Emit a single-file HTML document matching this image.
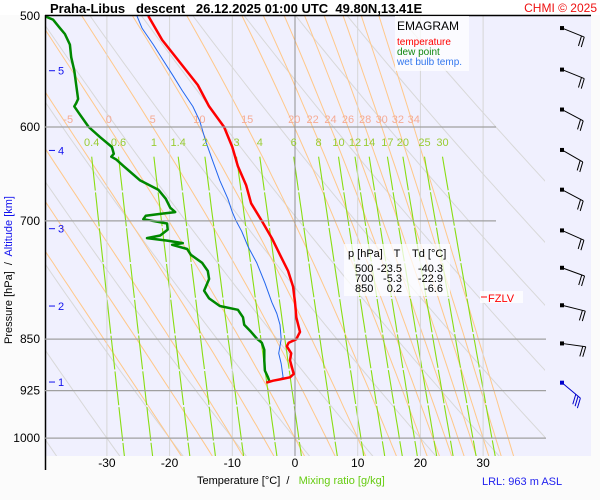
<!DOCTYPE html>
<html><head><meta charset="utf-8">
<style>
html,body{margin:0;padding:0;background:#fbfbfb;}
svg{display:block;font-family:"Liberation Sans",sans-serif;}
</style></head>
<body>
<svg id="chart" width="600" height="500" viewBox="0 0 600 500" xmlns="http://www.w3.org/2000/svg">
  <rect x="0" y="0" width="600" height="15" fill="#ffffff"/>
  <rect x="45" y="16" width="546" height="440" fill="#f0f0fe"/>
  <defs><clipPath id="plotclip"><rect x="45" y="16" width="500" height="440"/></clipPath></defs>
  <g id="grid" clip-path="url(#plotclip)"></g>
  <g id="profiles" clip-path="url(#plotclip)"></g>
  <g id="labels"></g>
  <line x1="45" y1="15.5" x2="591" y2="15.5" stroke="#000" stroke-width="1.5"/>
  <line x1="45.5" y1="15" x2="45.5" y2="470" stroke="#000" stroke-width="1.5"/>
  <text x="50" y="13" font-size="13" font-weight="bold" fill="#000" xml:space="preserve">Praha-Libus   descent   26.12.2025 01:00 UTC  49.80N,13.41E</text>
  <text x="597" y="12" font-size="12" fill="#ee1111" text-anchor="end">CHMI © 2025</text>
  <g>
    <rect x="395" y="16" width="74" height="55" fill="#ffffff" fill-opacity="0.75"/>
    <text x="397" y="30" font-size="12" fill="#000">EMAGRAM</text>
    <text x="397" y="45" font-size="10" fill="#ff0000">temperature</text>
    <text x="397" y="55" font-size="10" fill="#118811">dew point</text>
    <text x="397" y="65" font-size="10" fill="#3377ee">wet bulb temp.</text>
  </g>
  <g font-size="11" fill="#000">
    <rect x="344" y="244" width="106" height="52" fill="#ffffff" fill-opacity="0.75"/>
    <text x="348" y="257">p [hPa]</text><text x="397" y="257" text-anchor="middle">T</text><text x="412" y="257">Td [°C]</text>
    <text x="355" y="272">500</text><text x="402" y="272" text-anchor="end">-23.5</text><text x="443" y="272" text-anchor="end">-40.3</text>
    <text x="355" y="282">700</text><text x="402" y="282" text-anchor="end">-5.3</text><text x="443" y="282" text-anchor="end">-22.9</text>
    <text x="355" y="292">850</text><text x="402" y="292" text-anchor="end">0.2</text><text x="443" y="292" text-anchor="end">-6.6</text>
  </g>
  <g>
    <rect x="480" y="291" width="43" height="12" fill="#ffffff" fill-opacity="0.8"/>
    <line x1="481" y1="297" x2="487" y2="297" stroke="#ff0000" stroke-width="1"/>
    <text x="488" y="302" font-size="11" fill="#ff0000">FZLV</text>
  </g>
  <g transform="translate(12,270) rotate(-90)">
    <text x="0" y="0" font-size="11" text-anchor="middle" xml:space="preserve"><tspan fill="#000">Pressure [hPa]  /  </tspan><tspan fill="#1111ee">Altitude [km]</tspan></text>
  </g>
  <text x="197" y="484" font-size="11" xml:space="preserve"><tspan fill="#000">Temperature [°C]  /   </tspan><tspan fill="#66cc11">Mixing ratio [g/kg]</tspan></text>
  <text x="482" y="485" font-size="11" fill="#2222ee">LRL: 963 m ASL</text>
</svg>
<script>
const pTicks=[500,600,700,850,925,1000];
const tTicks=[-30,-20,-10,0,10,20,30];
const altKm=[5,4,3,2,1];
const altP=[547,623.5,709,805,912];
const thetaW=[-20,-15,-10,-5,0,5,10,15,20,22,24,26,28,30,32,34];
const thetaWLabels=[-5,0,5,10,15,20,22,24,26,28,30,32,34];
const mixRatios=[0.4,0.6,1,1.4,2,3,4,6,8,10,12,14,17,20,25,30];
const dryThetas=[-40,-30,-20,-10,0,10,20,30,40,50,60,70,80];
const presT=[500,520,540,560,580,600,620,640,660,680,700,720,740,760,780,800,820,840,845,850,855,860,870,880,890,900,905,908,910,913];
const tempT=[-23.4,-21.2,-18.3,-15.5,-13.7,-11.3,-10.0,-9.1,-7.8,-7.0,-5.3,-3.7,-2.4,-1.1,-0.3,0.0,0.2,0.8,0.5,0.2,-1.0,-1.3,-0.6,-0.8,-0.5,-0.2,-0.8,-2.4,-3.5,-4.6];
const presTd=[500,503,510,515,524,535,547,560,573,577,580,587,600,610,620,627,630,633,640,655,665,675,685,690,692,694,698,703,710,717,720,723,726,728,733,740,750,760,770,785,795,805,810,820,830,840,850,855,865,880,895,905,913];
const dewTd=[-40.0,-38.6,-37.5,-36.7,-35.9,-35.7,-35.2,-34.9,-34.6,-34.9,-35.2,-34.4,-32.9,-31.1,-29.2,-28.9,-29.3,-28.5,-27.3,-24.7,-21.8,-20.6,-19.9,-19.1,-21.5,-23.8,-24.2,-20.4,-20.3,-21.5,-23.6,-20.4,-17.9,-19.6,-17.2,-16.6,-14.8,-13.9,-13.7,-14.5,-13.7,-12.0,-9.1,-8.3,-8.1,-7.0,-6.0,-5.3,-4.9,-4.9,-4.8,-4.3,-4.0];
const presTw=[500,510,524,537,551,565,580,594,615,633,655,675,690,700,712,730,750,775,800,815,830,850,870,885,905,910];
const wetTw=[-25.2,-24.4,-22.6,-21.1,-19.5,-18.0,-16.3,-15.2,-14.2,-13.2,-12.0,-10.7,-10.0,-9.4,-8.5,-7.5,-6.1,-4.8,-3.7,-2.9,-2.4,-2.2,-2.6,-2.2,-1.9,-3.0];
const windP=[510,546,583,623,665,711,756,804,856,913];
const windAngle=[22,22,28,30,28,24,20,14,8,40];

const NS="http://www.w3.org/2000/svg";
const X0=295, KX=6.27, Y0=16, KY=609;
function xT(t){return X0+t*KX;}
function yP(p){return Y0+KY*Math.log(p/500);}
function mk(tag,attrs,parent){const e=document.createElementNS(NS,tag);for(const k in attrs)e.setAttribute(k,attrs[k]);parent.appendChild(e);return e;}
const grid=document.getElementById('grid'), prof=document.getElementById('profiles'), lab=document.getElementById('labels');
function pathFrom(pts){return pts.map((q,i)=>(i?'L':'M')+q[0].toFixed(1)+','+q[1].toFixed(1)).join('');}

for(const th of dryThetas){const pts=[];for(let p=480;p<=1060;p+=10){pts.push([xT((th+273.15)*Math.pow(p/1000,0.2857)-273.15),yP(p)]);}
 const e=mk('path',{d:pathFrom(pts),fill:'none',stroke:'#d8d8d8','stroke-width':1},grid);
 
 }
function es(T){return 6.112*Math.exp(17.67*T/(T+243.5));}
function dT(T,p){const K=T+273.15,e=es(T),rs=0.622*e/(p-e);return (287*K+2.5e6*rs)/(1005+2.5e6*2.5e6*rs*0.622/(287*K*K));}
function moistT(tw,ptarget){let T=tw,lp=Math.log(1000);const lt=Math.log(ptarget);const n=200,h=(lt-lp)/n;for(let i=0;i<n;i++){const p=Math.exp(lp);T+=dT(T,p)*h;lp+=h;}return T;}
for(const tw of thetaW){const pts=[];for(let p=480;p<=1060;p+=10){pts.push([xT(moistT(tw,p)),yP(p)]);}
 const e=mk('path',{d:pathFrom(pts),fill:'none',stroke:'#ffc88a','stroke-width':1},grid);
 
 }
for(const tw of thetaWLabels){const t=mk('text',{x:xT(moistT(tw,600)).toFixed(1),y:123,'font-size':11,fill:'#f5ab95','text-anchor':'middle'},lab);t.textContent=tw;
 
 }
function tdW(w,p){const e=w*p/(622+w),L=Math.log(e/6.112);return 243.5*L/(17.67-L);}
for(const w of mixRatios){const pts=[];for(let p=630;p<=1060;p+=10){pts.push([xT(tdW(w,p)),yP(p)]);}
 const e=mk('path',{d:pathFrom(pts),fill:'none',stroke:'#88dd11','stroke-width':1.1,'stroke-dasharray':'34,2'},grid);
 
 
 const t=mk('text',{x:xT(tdW(w,630)).toFixed(1),y:146,'font-size':11,fill:'#99cc33','text-anchor':'middle'},lab);t.textContent=w;
 
 }
for(const t of tTicks){const x=xT(t);const l=mk('line',{x1:x,y1:16,x2:x,y2:456,stroke:t===0?'#909090':'#d6d6d6','stroke-width':1},grid);
 
 
 const tx=mk('text',{x:x,y:467,'font-size':12,fill:'#000','text-anchor':'middle'},lab);tx.textContent=t;
 
 }
for(const p of pTicks){const y=yP(p);if(p!==500){const l=mk('line',{x1:45,y1:y,x2:p===600||p===700?496:546,y2:y,stroke:'#a0a0a0','stroke-width':1.2},document.getElementById('chart'));
 
 }
 const t=mk('text',{x:40,y:y+4,'font-size':12,fill:'#000','text-anchor':'end'},lab);t.textContent=p;
 
 }
altKm.forEach((k,i)=>{const y=yP(altP[i]);const l=mk('line',{x1:49,y1:y,x2:55,y2:y,stroke:'#1111ee','stroke-width':1},lab);
 
 
 const t=mk('text',{x:58,y:y+4,'font-size':11,fill:'#1111ee'},lab);t.textContent=k;
 
 });
function prof2(ps,ts,col,w,name){const pts=ps.map((p,i)=>[xT(ts[i]),yP(p)]);const e=mk('path',{d:pathFrom(pts),fill:'none',stroke:col,'stroke-width':w,'stroke-linejoin':'round'},prof);
 
 }
prof2(presTw,wetTw,'#2266ee',1,'wet-bulb-line');
prof2(presTd,dewTd,'#008800',2.5,'dew-point-line');
prof2(presT,tempT,'#ff0000',2.5,'temperature-line');
const svg=document.getElementById('chart');
windP.forEach((p,i)=>{const y=yP(p),x=562,a=windAngle[i]*Math.PI/180,L=24;const ex=x+L*Math.cos(a),ey=y+L*Math.sin(a);const col=i===windP.length-1?'#0000cc':'#000';
 const g=mk('g',{},svg);
 
 
 mk('rect',{x:x-2,y:y-2,width:4,height:4,fill:col},g);
 mk('line',{x1:x,y1:y,x2:ex,y2:ey,stroke:col,'stroke-width':1},g);
 const n=i===windP.length-1?3:2;for(let k=0;k<n;k++){const bx=ex-3*k*Math.cos(a),by=ey-3*k*Math.sin(a);mk('line',{x1:bx,y1:by,x2:bx-3,y2:by+10,stroke:col,'stroke-width':1},g);}});
</script>
</body></html>
